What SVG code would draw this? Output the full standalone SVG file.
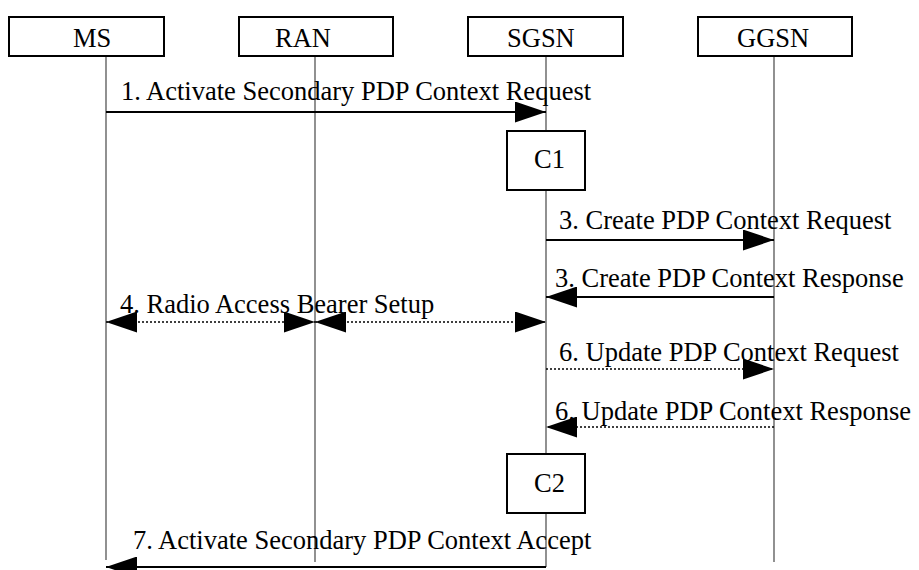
<svg xmlns="http://www.w3.org/2000/svg" width="919" height="570" viewBox="0 0 919 570">
<style>
.box{fill:#fff;stroke:#000;stroke-width:2}
.life{stroke:#555;stroke-width:1.3;fill:none}
.msg{stroke:#000;stroke-width:2;fill:none}
.dot{stroke:#000;stroke-width:1.6;stroke-dasharray:2 2;fill:none}
text{font-family:"Liberation Serif","Times New Roman",serif;font-size:26.5px;fill:#000}
</style>
<defs>
<marker id="ah" markerUnits="userSpaceOnUse" markerWidth="31" markerHeight="21" viewBox="0 0 31 21" refX="31" refY="10.5" orient="auto-start-reverse">
<path d="M0,0 L31,10.5 L0,21 z" fill="#000"/>
</marker>
</defs>
<rect width="919" height="570" fill="#fff"/>
<g id="lifelines">
<line class="life" x1="106" y1="56" x2="106" y2="560"/>
<line class="life" x1="315" y1="56" x2="315" y2="562"/>
<line class="life" x1="546" y1="56" x2="546" y2="567"/>
<line class="life" x1="774" y1="56" x2="774" y2="562"/>
</g>
<g id="MS"><rect class="box" x="9" y="17" width="155" height="39"/><text x="73" y="47">MS</text></g>
<g id="RAN"><rect class="box" x="239" y="17" width="154" height="39"/><text x="275" y="47">RAN</text></g>
<g id="SGSN"><rect class="box" x="468" y="17" width="155" height="39"/><text x="507" y="47">SGSN</text></g>
<g id="GGSN"><rect class="box" x="698" y="17" width="154" height="39"/><text x="737" y="47">GGSN</text></g>
<g id="C1"><rect class="box" x="507" y="131" width="78" height="59"/><text x="534" y="168">C1</text></g>
<g id="C2"><rect class="box" x="507" y="454" width="78" height="59"/><text x="534" y="492">C2</text></g>
<g id="connectors">
<line class="msg" x1="106" y1="112" x2="546" y2="112" marker-end="url(#ah)"/>
<line class="msg" x1="546" y1="240" x2="774" y2="240" marker-end="url(#ah)"/>
<line class="msg" x1="774" y1="297" x2="546" y2="297" marker-end="url(#ah)"/>
<line class="dot" x1="106" y1="322" x2="315" y2="322" marker-start="url(#ah)" marker-end="url(#ah)"/>
<line class="dot" x1="315" y1="322" x2="546" y2="322" marker-start="url(#ah)" marker-end="url(#ah)"/>
<line class="dot" x1="546" y1="369" x2="774" y2="369" marker-end="url(#ah)"/>
<line class="dot" x1="774" y1="427" x2="546" y2="427" marker-end="url(#ah)"/>
<line class="msg" x1="546" y1="567" x2="106" y2="567" marker-end="url(#ah)"/>
</g>
<g id="labels">
<text x="121" y="100">1. Activate Secondary PDP Context Request</text>
<text x="559" y="229">3. Create PDP Context Request</text>
<text x="555" y="287">3. Create PDP Context Response</text>
<text x="120" y="313">4. Radio Access Bearer Setup</text>
<text x="559" y="361">6. Update PDP Context Request</text>
<text x="555" y="420">6. Update PDP Context Response</text>
<text x="133" y="549">7. Activate Secondary PDP Context Accept</text>
</g>
</svg>
